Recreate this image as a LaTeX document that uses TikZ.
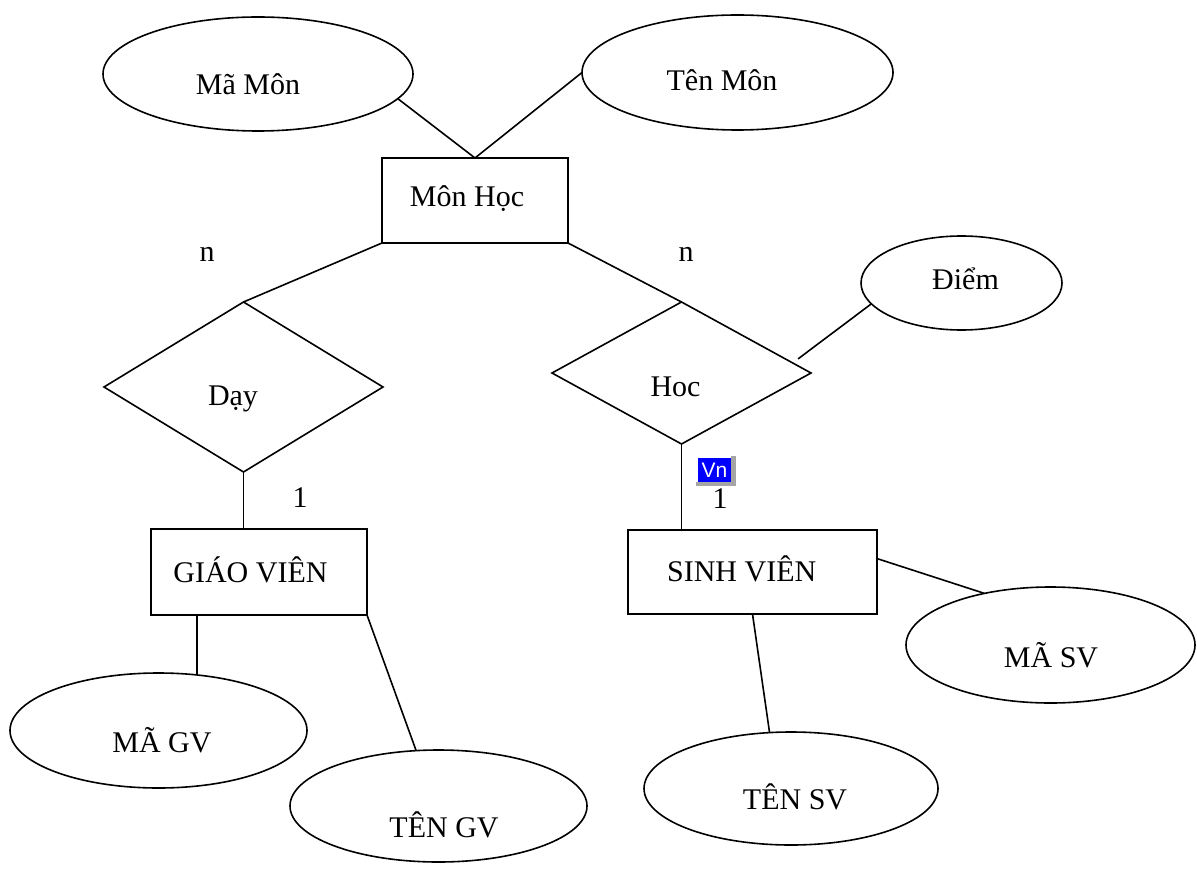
\documentclass[tikz,border=0pt]{standalone}
\usepackage{fontspec}
\setmainfont{Liberation Serif}
\newfontfamily\vnfont{Liberation Sans}
\usetikzlibrary{shapes.geometric,calc}
\definecolor{vnblue}{RGB}{0,0,255}
\definecolor{vngray}{RGB}{165,165,165}
\begin{document}
\begin{tikzpicture}[x=0.5pt,y=-0.5pt,
  every node/.style={outer sep=0pt},
  ent/.style={draw, line width=0.8pt, rectangle, inner sep=0pt},
  attr/.style={draw, line width=0.8pt, ellipse, inner sep=0pt},
  rel/.style={draw, line width=0.8pt, diamond, inner sep=0pt},
  lbl/.style={anchor=base, inner sep=0pt, font=\fontsize{15pt}{18pt}\selectfont},
  conn/.style={line width=0.8pt}]
\useasboundingbox (0,0) rectangle (1197,871);

% entities
\node[ent, minimum width=93pt, minimum height=42.5pt] (monhoc) at (475,200.5) {};
\node[ent, minimum width=108pt, minimum height=43pt] (giaovien) at (259,572) {};
\node[ent, minimum width=124.5pt, minimum height=42pt] (sinhvien) at (752.5,572) {};

% relationships
\node[rel, minimum width=139.5pt, minimum height=85pt] (day) at (243.5,387) {};
\node[rel, minimum width=129.5pt, minimum height=71pt] (hoc) at (681.5,373) {};

% attributes
\node[attr, minimum width=155pt, minimum height=57pt] (mamon) at (258,74) {};
\node[attr, minimum width=155.5pt, minimum height=57.5pt] (tenmon) at (737.5,72.5) {};
\node[attr, minimum width=100.5pt, minimum height=47pt] (diem) at (961.5,283) {};
\node[attr, minimum width=148.5pt, minimum height=57.5pt] (magv) at (158.5,730.5) {};
\node[attr, minimum width=148.5pt, minimum height=56pt] (tengv) at (438.5,806) {};
\node[attr, minimum width=144.5pt, minimum height=58pt] (masv) at (1050.5,645) {};
\node[attr, minimum width=147pt, minimum height=56.5pt] (tensv) at (791,788.5) {};

% texts
\node[lbl] (tmamon) at (248,95) {Mã Môn};
\node[lbl] (ttenmon) at (722,91) {Tên Môn};
\node[lbl] (tmonhoc) at (467,207) {Môn Học};
\node[lbl] (tday) at (233,405) {Dạy};
\node[lbl] (thoc) at (675.5,396) {Hoc};
\node[lbl] (tdiem) at (965.5,290) {Điểm};
\node[lbl] (tgv) at (250.5,582) {GIÁO VIÊN};
\node[lbl] (tsv) at (741.7,581) {SINH VIÊN};
\node[lbl] (tmagv) at (162,752) {MÃ GV};
\node[lbl] (ttengv) at (444,837) {TÊN GV};
\node[lbl] (tmasv) at (1051,667) {MÃ SV};
\node[lbl] (ttensv) at (795,809) {TÊN SV};
\node[lbl] (n1) at (207,262) {n};
\node[lbl] (n2) at (686,262) {n};
\node[lbl] (c1) at (300,507) {1};
\node[lbl] (c2) at (720,508) {1};

% connectors
\draw[conn] (mamon.-10.6) -- (monhoc.north);
\draw[conn] (tenmon.west) -- (monhoc.north);
\draw[conn] (monhoc.south west) -- (day.north);
\draw[conn] (monhoc.south east) -- (hoc.north);
\draw[conn] (diem.193) -- ([yshift=3.5pt]$(hoc.north)!0.9!(hoc.east)$);
\draw[conn] (day.south) -- (day.south |- giaovien.north);
\draw[conn] (hoc.south) -- (hoc.south |- sinhvien.north);
\coordinate (gvb) at ([xshift=23pt]giaovien.south west);
\draw[conn] (gvb) -- (gvb |- magv.55.3);
\draw[conn] (giaovien.south east) -- (tengv.112);
\draw[conn] (sinhvien.south) -- (tensv.111);
\draw[conn] ($(sinhvien.north east)!0.34!(sinhvien.south east)$) -- (masv.142);

% Vn indicator
\fill[vngray] (731,456) rectangle (736,486);
\fill[vngray] (696,482) rectangle (736,486);
\node[fill=vnblue, text=white, inner sep=0pt, minimum width=16.5pt, minimum height=12pt,
      font=\vnfont\fontsize{10.5pt}{12pt}\selectfont] (vn) at (714.5,470) {Vn};
\end{tikzpicture}
\end{document}
